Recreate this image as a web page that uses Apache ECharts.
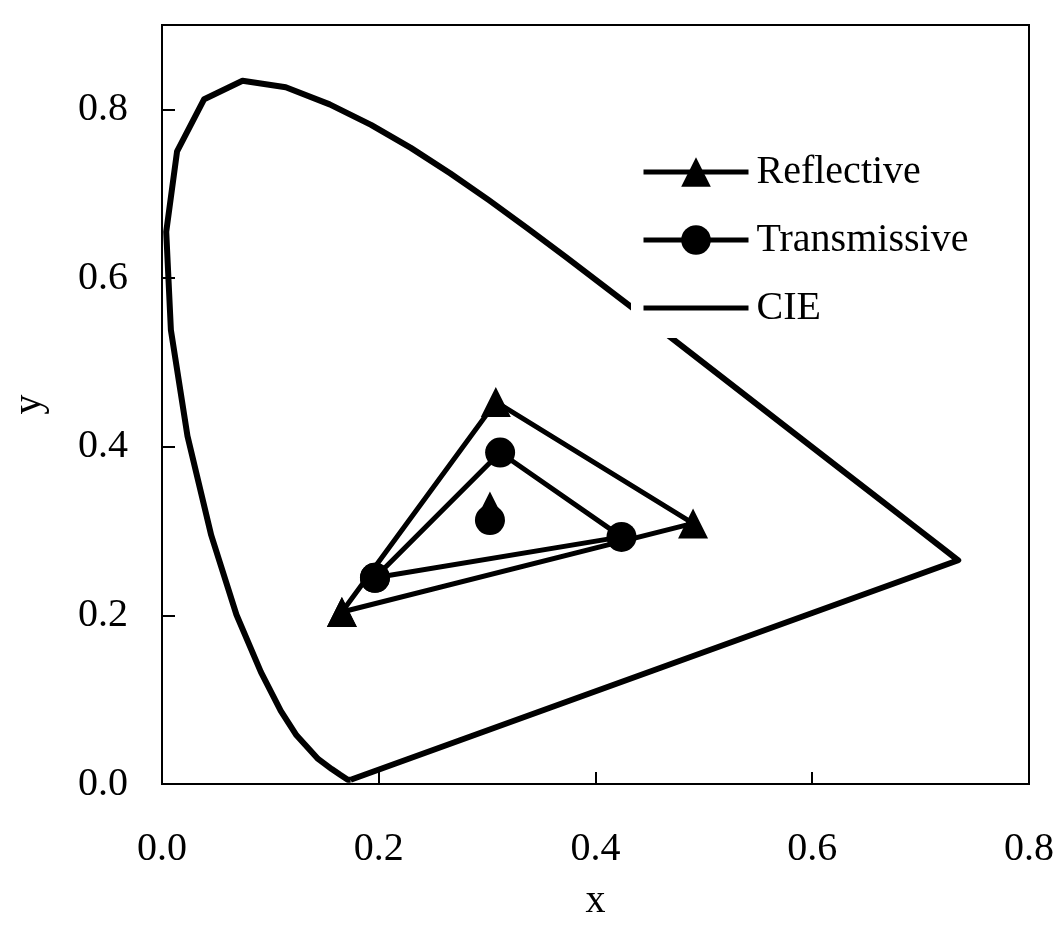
<!DOCTYPE html>
<html>
<head>
<meta charset="utf-8">
<script src="https://cdn.jsdelivr.net/npm/echarts@6/dist/echarts.min.js"></script>
<style>
html,body{margin:0;padding:0;background:#fff;}
#chart{width:1062px;height:941px;}
</style>
</head>
<body>
<div id="chart"></div>
<script>
// Reflective gamut triangle (closed): left, top, right, back to left
const reflectiveX = [0.166, 0.308, 0.490, 0.166];
const reflectiveY = [0.204, 0.453, 0.309, 0.204];
// Transmissive gamut triangle (closed)
const transmissiveX = [0.1965, 0.312, 0.424, 0.1965];
const transmissiveY = [0.2445, 0.393, 0.293, 0.2445];
// White points
const reflectiveWhite = [0.3026, 0.329];
const transmissiveWhite = [0.3026, 0.313];
// CIE 1931 spectrum locus (closed with purple line)
const cieX = [0.1741, 0.1733, 0.1714, 0.1644, 0.1566, 0.1440, 0.1241, 0.1096, 0.0913, 0.0687, 0.0454, 0.0235, 0.0082, 0.0039, 0.0139, 0.0389, 0.0743, 0.1142, 0.1547, 0.1929, 0.2296, 0.2658, 0.3016, 0.3373, 0.3731, 0.4441, 0.5125, 0.5752, 0.6270, 0.6658, 0.6915, 0.7190, 0.7347, 0.1741];
const cieY = [0.0050, 0.0048, 0.0051, 0.0109, 0.0177, 0.0297, 0.0578, 0.0868, 0.1327, 0.2007, 0.2950, 0.4127, 0.5384, 0.6548, 0.7502, 0.8120, 0.8338, 0.8262, 0.8059, 0.7816, 0.7543, 0.7243, 0.6923, 0.6589, 0.6245, 0.5547, 0.4866, 0.4242, 0.3725, 0.3340, 0.3083, 0.2809, 0.2653, 0.0050];
const xTicks = [0, 0.2, 0.4, 0.6, 0.8];
const yTicks = [0, 0.2, 0.4, 0.6, 0.8];

const zip = (a, b) => a.map((v, i) => [v, b[i]]);
const FONT = "'Liberation Serif', 'Times New Roman', serif";

const chart = echarts.init(document.getElementById('chart'), null, {renderer: 'canvas'});
chart.setOption({
  backgroundColor: '#fff',
  animation: false,
  grid: {left: 162, right: 33, top: 25, bottom: 157, show: true, borderColor: '#000', borderWidth: 2, backgroundColor: 'transparent'},
  xAxis: {
    type: 'value', min: xTicks[0], max: xTicks[xTicks.length - 1], interval: 0.2,
    name: 'x', nameLocation: 'middle', nameGap: 97,
    nameTextStyle: {fontFamily: FONT, fontSize: 40, color: '#000'},
    axisLine: {lineStyle: {color: '#000', width: 2}},
    axisTick: {inside: true, length: 12, lineStyle: {color: '#000', width: 2}},
    axisLabel: {fontFamily: FONT, fontSize: 40, color: '#000', margin: 45, formatter: v => v.toFixed(1)},
    splitLine: {show: false}
  },
  yAxis: {
    type: 'value', min: yTicks[0], max: 0.9, interval: 0.2,
    name: 'y', nameLocation: 'middle', nameGap: 113, nameRotate: 90,
    nameTextStyle: {fontFamily: FONT, fontSize: 40, color: '#000'},
    axisLine: {lineStyle: {color: '#000', width: 2}},
    axisTick: {inside: true, length: 13, lineStyle: {color: '#000', width: 2}},
    axisLabel: {fontFamily: FONT, fontSize: 40, color: '#000', margin: 34, showMaxLabel: false, formatter: v => v.toFixed(1)},
    splitLine: {show: false}
  },
  legend: {
    orient: 'vertical', left: 631, top: 142, padding: 10,
    backgroundColor: '#fff', itemWidth: 105, itemHeight: 37, itemGap: 28, align: 'left',
    lineStyle: {width: 5, color: '#000'},
    textStyle: {fontFamily: FONT, fontSize: 40, color: '#000', padding: [0, 0, 0, 3]},
    data: [
      {name: 'Reflective'},
      {name: 'Transmissive'},
      {name: 'CIE', itemStyle: {color: 'rgba(0,0,0,0)', opacity: 0}}
    ]
  },
  series: [
    {
      name: 'Reflective', type: 'line', data: zip(reflectiveX, reflectiveY),
      symbol: 'triangle', symbolSize: 30, showAllSymbol: true,
      lineStyle: {color: '#000', width: 5}, itemStyle: {color: '#000'}, z: 3
    },
    {
      name: 'Transmissive', type: 'line', data: zip(transmissiveX, transmissiveY),
      symbol: 'circle', symbolSize: 30, showAllSymbol: true,
      lineStyle: {color: '#000', width: 5}, itemStyle: {color: '#000'}, z: 3
    },
    {
      name: 'CIE', type: 'line', data: zip(cieX, cieY),
      symbol: 'none', showSymbol: false,
      lineStyle: {color: '#000', width: 6, join: 'round'}, itemStyle: {color: '#000'}, z: 2
    },
    {
      name: 'Reflective white', type: 'scatter', data: [reflectiveWhite],
      symbol: 'triangle', symbolSize: 30, itemStyle: {color: '#000', opacity: 1}, z: 3
    },
    {
      name: 'Transmissive white', type: 'scatter', data: [transmissiveWhite],
      symbol: 'circle', symbolSize: 30, itemStyle: {color: '#000', opacity: 1}, z: 3
    }
  ]
});
</script>
</body>
</html>
